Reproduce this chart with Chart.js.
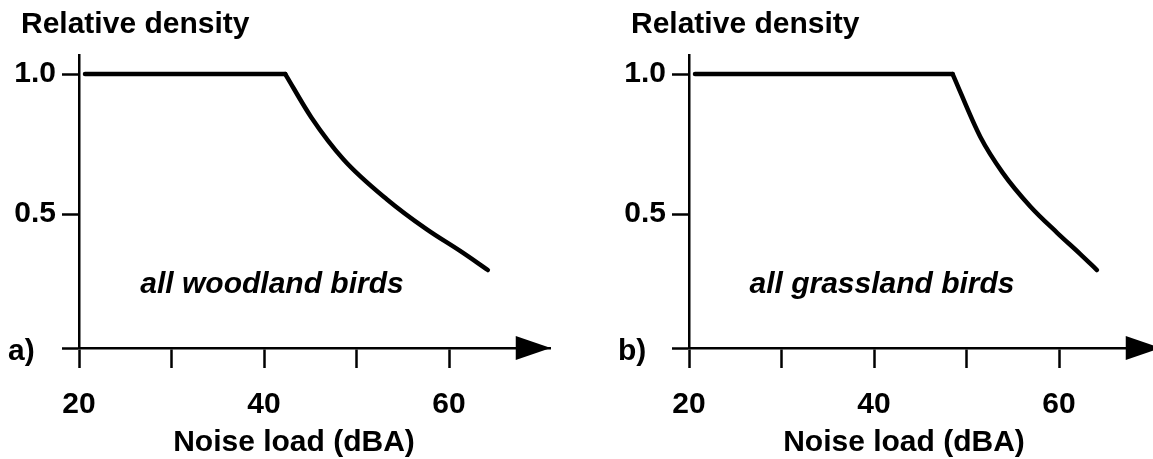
<!DOCTYPE html>
<html>
<head>
<meta charset="utf-8">
<script src="https://cdn.jsdelivr.net/npm/chart.js@4.4.1/dist/chart.umd.min.js"></script>
<style>
  html, body { margin: 0; padding: 0; background: #fff; overflow: hidden; }
  .panel { position: absolute; top: 0; width: 610px; height: 459px; }
</style>
</head>
<body>
<div class="panel" style="left:0"><canvas id="chartA" width="610" height="459"></canvas></div>
<div class="panel" style="left:610px"><canvas id="chartB" width="610" height="459"></canvas></div>
<script>
// tick values and labels
const xTicks = [20, 30, 40, 50, 60];
const xTickLabels = ['20', '', '40', '', '60'];
const yTicks = [0.5, 1.0];
const yTickLabels = ['0.5', '1.0'];

// a) all woodland birds (flat part, then the decline from the corner on)
const woodlandFlatX = [20.65, 42.3];
const woodlandFlatY = [1.0, 1.0];
const woodlandDropX = [42.3, 45.1, 48.6, 53.3, 57.6, 61.2, 64.2];
const woodlandDropY = [1.0, 0.846, 0.695, 0.552, 0.445, 0.368, 0.3];

// b) all grassland birds
const grasslandFlatX = [20.65, 48.5];
const grasslandFlatY = [1.0, 1.0];
const grasslandDropX = [48.5, 51.5, 53.9, 56.9, 59.8, 62.3, 64.1];
const grasslandDropY = [1.0, 0.775, 0.648, 0.527, 0.433, 0.357, 0.3];

const family = '"Liberation Sans", Arial, sans-serif';
const fontSize = 30;

// arrow head on the x axis plus the loose texts of each panel
const panelDecor = {
  id: 'panelDecor',
  afterDraw(chart, args, opts) {
    const ctx = chart.ctx;
    const area = chart.chartArea;
    const y0 = area.bottom;
    ctx.save();
    ctx.fillStyle = '#000';
    ctx.beginPath();
    ctx.moveTo(area.right, y0);
    ctx.lineTo(area.right - 35, y0 - 12);
    ctx.lineTo(area.right - 35, y0 + 12);
    ctx.closePath();
    ctx.fill();

    ctx.font = 'bold ' + fontSize + 'px ' + family;
    ctx.textBaseline = 'alphabetic';
    ctx.textAlign = 'left';
    ctx.fillText('Relative density', 21, 33);
    ctx.fillText(opts.letter, 8, 360);
    ctx.textAlign = 'center';
    ctx.fillText('Noise load (dBA)', 294, 451);
    ctx.font = 'italic bold ' + fontSize + 'px ' + family;
    ctx.fillText(opts.label, 272, 293);
    ctx.restore();
  }
};

function toPoints(xs, ys) {
  return xs.map((x, i) => ({ x: x, y: ys[i] }));
}

function makePanel(canvasId, flatX, flatY, dropX, dropY, letter, label) {
  const ctx = document.getElementById(canvasId).getContext('2d');

  const lineStyle = {
    borderColor: '#000',
    borderWidth: 4.5,
    pointRadius: 0,
    borderCapStyle: 'round',
    borderJoinStyle: 'round',
    clip: false,
  };

  return new Chart(ctx, {
    type: 'line',
    data: {
      datasets: [
        Object.assign({ data: toPoints(flatX, flatY), tension: 0 }, lineStyle),
        Object.assign({ data: toPoints(dropX, dropY), cubicInterpolationMode: 'monotone' }, lineStyle),
      ],
    },
    options: {
      responsive: false,
      animation: false,
      events: [],
      layout: { padding: { top: 55, right: 59.25, left: 0, bottom: 0 } },
      plugins: {
        legend: { display: false },
        tooltip: { enabled: false },
        panelDecor: { letter: letter, label: label },
      },
      scales: {
        x: {
          type: 'linear',
          min: 20,
          max: 71,
          afterBuildTicks: (scale) => {
            scale.ticks = xTicks.map(v => ({ value: v }));
          },
          afterFit: (scale) => { scale.height = 111; },
          border: { display: true, color: '#000', width: 2.5 },
          grid: {
            drawOnChartArea: false,
            drawTicks: true,
            tickLength: 20,
            tickWidth: 2.5,
            tickColor: '#000',
          },
          ticks: {
            autoSkip: false,
            maxRotation: 0,
            padding: 19,
            color: '#000',
            font: { family: family, size: fontSize, weight: 'bold' },
            callback: (value, index) => xTickLabels[index],
          },
        },
        y: {
          type: 'linear',
          min: 0.0214,
          max: 1.068,
          afterBuildTicks: (scale) => {
            scale.ticks = [{ value: scale.min }].concat(yTicks.map(v => ({ value: v })));
          },
          afterFit: (scale) => { scale.width = 79; },
          border: { display: true, color: '#000', width: 2.5 },
          grid: {
            drawOnChartArea: false,
            drawTicks: true,
            tickLength: 17,
            tickWidth: 2.5,
            tickColor: '#000',
          },
          ticks: {
            padding: 6,
            color: '#000',
            font: { family: family, size: fontSize, weight: 'bold' },
            callback: (value, index) => (index === 0 ? '' : yTickLabels[index - 1]),
          },
        },
      },
    },
    plugins: [panelDecor],
  });
}

document.addEventListener('DOMContentLoaded', () => {
  makePanel('chartA', woodlandFlatX, woodlandFlatY, woodlandDropX, woodlandDropY, 'a)', 'all woodland birds');
  makePanel('chartB', grasslandFlatX, grasslandFlatY, grasslandDropX, grasslandDropY, 'b)', 'all grassland birds');
});
</script>
</body>
</html>
